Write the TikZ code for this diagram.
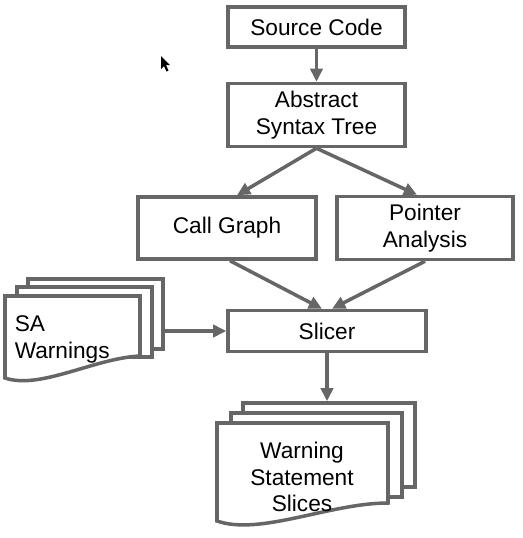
\documentclass[tikz,border=0pt]{standalone}
\usepackage{fontspec}
\setmainfont{Liberation Sans}
\usetikzlibrary{arrows.meta,fit}
\definecolor{linegray}{HTML}{666666}

\begin{document}
\begin{tikzpicture}[x=0.02cm,y=-0.02cm,
  box/.style={draw=linegray,line width=2pt,fill=white,inner sep=0pt,align=center,
    font=\fontsize{12.9}{15.3}\selectfont},
  layer/.style={draw=linegray,line width=2pt,fill=white,inner sep=0pt},
  flow/.style={draw=linegray,line width=2pt,-{Triangle[length=7.5pt,width=7pt]}}]
\useasboundingbox (0,0) rectangle (523,538);
% boxes
\node[box,minimum width=3.54cm,minimum height=0.8cm] (src) at (316.5,27) {Source Code};
\node[box,minimum width=3.54cm,minimum height=1.26cm] (ast) at (316.5,115) {Abstract\\Syntax Tree};
\node[box,minimum width=3.56cm,minimum height=1.24cm] (cg) at (227,228) {Call Graph};
\node[box,minimum width=3.52cm,minimum height=1.26cm] (pa) at (425,228) {Pointer\\Analysis};
\node[box,minimum width=3.96cm,minimum height=0.82cm] (slicer) at (327,331) {Slicer};
% SA warnings (stacked documents)
\node[layer,fit={(28,279) (163,349)}] (sa3) {};
\node[layer,fit={(17,287) (152,357)}] (sa2) {};
\draw[layer] (5,378) -- (5,296) -- (140,296) -- (140,356)
  .. controls (95,358) and (40,390) .. cycle;
\node[box,draw=none,fill=none,anchor=west,align=left] (sa1) at (13,339) {SA\\Warnings};
% slices (stacked documents)
\node[layer,fit={(243,403) (415,487)}] (sl3) {};
\node[layer,fit={(231,413) (402,497)}] (sl2) {};
\draw[layer] (217,521) -- (217,423) -- (388,423) -- (388,503)
  .. controls (330,503) and (260,536) .. cycle;
\node[box,draw=none,fill=none] (sl1) at (302,477) {Warning\\Statement\\Slices};
% connectors
\draw[flow] (src.south) -- (ast.north);
\draw[flow] (ast.south) -- ([xshift=0.2cm]cg.north);
\draw[flow] (ast.south) -- ([xshift=-0.16cm]pa.north);
\draw[flow] ([xshift=0.06cm]cg.south) -- ([xshift=-0.1cm]slicer.north);
\draw[flow] (pa.south) -- ([xshift=0.1cm]slicer.north);
\draw[flow] (sa3.east |- slicer.west) -- (slicer.west);
\draw[flow] (slicer.south) -- (sl3.north -| slicer.south);
% mouse pointer
\fill[black] (161,56) -- (161,69) -- (164,66) -- (166.5,71.5) -- (168.5,70.5) -- (166,65) -- (170,65) -- cycle;
\end{tikzpicture}
\end{document}
